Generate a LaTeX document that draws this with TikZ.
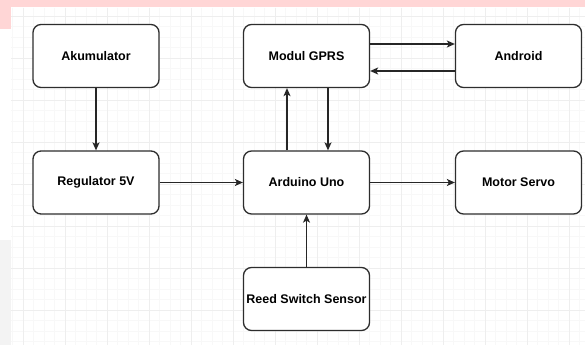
\documentclass[tikz,border=0pt]{standalone}
\usepackage{fontspec}
\setmainfont{Liberation Sans}
\usetikzlibrary{arrows.meta}
\definecolor{pinkbg}{RGB}{255,214,214}
\definecolor{minorgrid}{RGB}{248,248,248}
\definecolor{majorgrid}{RGB}{238,238,238}
\definecolor{leftgray}{RGB}{243,243,243}
\definecolor{boxline}{RGB}{45,45,45}
\tikzset{
  blockbox/.style={draw=boxline, line width=1.3pt, rounded corners=8pt, fill=white,
    minimum width=126pt, minimum height=63pt, inner sep=0pt,
    font=\fontsize{12.5}{14}\selectfont\bfseries, text=black},
  arr/.style={draw=black!85, line width=1.2pt, -{Stealth[length=8pt,width=7pt,inset=2pt]}}
}
\begin{document}
\begin{tikzpicture}[x=1pt,y=-1pt]
\useasboundingbox (0,0) rectangle (585,345);
% background
\fill[white] (0,0) rectangle (585,345);
\fill[leftgray] (0,240) rectangle (11,345);
\foreach \i in {0,...,54} {
  \pgfmathsetmacro{\gx}{12.5+10.5*\i}
  \ifdim\gx pt<585pt \draw[minorgrid, line width=0.5pt] (\gx,8) -- (\gx,345); \fi
}
\foreach \j in {0,...,31} {
  \pgfmathsetmacro{\gy}{16+10.5*\j}
  \ifdim\gy pt<345pt \draw[minorgrid, line width=0.5pt] (11,\gy) -- (585,\gy); \fi
}
\foreach \gx in {23,65,...,569} { \draw[majorgrid, line width=0.7pt] (\gx,8) -- (\gx,345); }
\foreach \gy in {16,58,...,310} { \draw[majorgrid, line width=0.7pt] (11,\gy) -- (585,\gy); }
\fill[pinkbg] (0,0) rectangle (585,7.5);
\fill[pinkbg] (0,0) rectangle (11,29.5);
% nodes
\node[blockbox] (aku) at (96,56) {Akumulator};
\node[blockbox] (gprs) at (306.5,56) {Modul GPRS};
\node[blockbox] (andr) at (518.5,56) {Android};
\node[blockbox] (reg) at (96,182.5) {Regulator 5V};
\node[blockbox] (ard) at (306.5,182.5) {Arduino Uno};
\node[blockbox] (servo) at (518.5,182.5) {Motor Servo};
\node[blockbox] (reed) at (306.5,299) {Reed Switch Sensor};
% connectors
\draw[arr] (aku) -- (reg);
\draw[arr] (reg) -- (ard);
\draw[arr] (ard) -- (servo);
\draw[arr] (reed) -- (ard);
\draw[arr] ([xshift=-19.5pt]ard.north) -- ([xshift=-19.5pt]gprs.south);
\draw[arr] ([xshift=21.5pt]gprs.south) -- ([xshift=21.5pt]ard.north);
\draw[arr] ([yshift=12pt]gprs.east) -- ([yshift=12pt]andr.west);
\draw[arr] ([yshift=-15pt]andr.west) -- ([yshift=-15pt]gprs.east);
\end{tikzpicture}
\end{document}
